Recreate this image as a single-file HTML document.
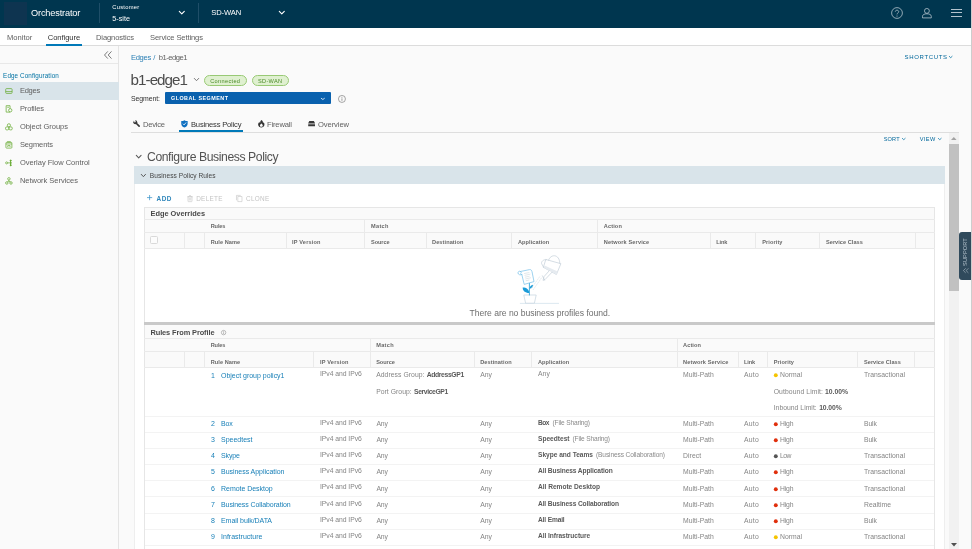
<!DOCTYPE html>
<html>
<head>
<meta charset="utf-8">
<title>Orchestrator</title>
<style>
*{box-sizing:border-box;margin:0;padding:0}
html,body{width:972px;height:549px;overflow:hidden;background:#fafafa;font-family:"Liberation Sans",sans-serif;color:#565656;font-size:7px}
.a{position:absolute;white-space:pre;line-height:1}
.hl{position:absolute;height:1px;background:#eaeaea}
.vl{position:absolute;width:1px;background:#eaeaea}
svg{position:absolute;overflow:visible}
</style>
</head>
<body>
<div id="root" style="position:absolute;left:0;top:0;width:972px;height:549px;will-change:transform">
<div class="a" style="left:0px;top:0px;width:972px;height:28px;background:#00364f;"></div>
<div class="a" style="left:4px;top:2px;width:23px;height:23px;background:#0e3450;"></div>
<div class="a" style="left:99px;top:3px;width:1px;height:20px;background:#1f4e68;"></div>
<div class="a" style="left:198px;top:3px;width:1px;height:20px;background:#1f4e68;"></div>
<svg style="left:179.3px;top:11.3px" width="5.6" height="3.4" viewBox="0 0 5.6 3.4"><path d="M0.3 0.4 L2.8 2.9 L5.3 0.4" fill="none" stroke="#fff" stroke-width="1.1" stroke-linecap="round" stroke-linejoin="round"/></svg>
<svg style="left:278.5px;top:11.3px" width="5.6" height="3.4" viewBox="0 0 5.6 3.4"><path d="M0.3 0.4 L2.8 2.9 L5.3 0.4" fill="none" stroke="#fff" stroke-width="1.1" stroke-linecap="round" stroke-linejoin="round"/></svg>
<svg style="left:891px;top:7px" width="12" height="12" viewBox="0 0 12 12"><circle cx="6" cy="6" r="5.4" fill="none" stroke="#b4c3cd" stroke-width="0.8"/><path d="M4.3 4.7 C4.3 2.7 7.7 2.7 7.7 4.7 C7.7 6 6 6 6 7.4" fill="none" stroke="#b4c3cd" stroke-width="0.8"/><circle cx="6" cy="9" r="0.55" fill="#b4c3cd"/></svg>
<svg style="left:921.6px;top:7.8px" width="9.8" height="10.4" viewBox="0 0 9.8 10.4"><circle cx="4.9" cy="2.9" r="2.45" fill="none" stroke="#b4c3cd" stroke-width="0.8"/><path d="M0.5 9.9 L0.5 8.3 C0.5 6.6 2.5 5.8 4.9 5.8 C7.3 5.8 9.3 6.6 9.3 8.3 L9.3 9.9 Z" fill="none" stroke="#b4c3cd" stroke-width="0.8" stroke-linejoin="round"/></svg>
<div class="a" style="left:951.3px;top:8.8px;width:10.4px;height:0.9px;background:#b4c3cd;"></div>
<div class="a" style="left:951.3px;top:12.4px;width:10.4px;height:0.9px;background:#b4c3cd;"></div>
<div class="a" style="left:951.3px;top:16.1px;width:10.4px;height:0.9px;background:#b4c3cd;"></div>
<div class="a" style="left:0px;top:28px;width:972px;height:18px;background:#fff;border-bottom:1px solid #dcdcdc"></div>
<div class="a" style="left:46.3px;top:43.8px;width:35.5px;height:2px;background:#0079b8;"></div>
<div class="a" style="left:0px;top:46px;width:119px;height:503px;background:#fafafa;border-right:1px solid #e4e4e4"></div>
<div class="hl" style="left:0px;top:63px;width:118px;background:#e8e8e8"></div>
<svg style="left:104px;top:51px" width="8" height="8" viewBox="0 0 8 8"><path d="M3.8 0.4 L0.5 4 L3.8 7.6 M7.5 0.4 L4.2 4 L7.5 7.6" fill="none" stroke="#666" stroke-width="0.85"/></svg>
<div class="a" style="left:0px;top:82px;width:119px;height:17.9px;background:#d9e4ea;"></div>
<svg style="left:5.2px;top:87.1px" width="7.8" height="7.8" viewBox="0 0 17 17" fill="none" stroke="#66aa30" stroke-width="1.6" stroke-linejoin="round"><rect x="1.5" y="3.5" width="14" height="10.5" rx="2"/><path d="M1.5 10 H15.5"/></svg>
<svg style="left:5.2px;top:105.0px" width="7.8" height="7.8" viewBox="0 0 17 17" fill="none" stroke="#66aa30" stroke-width="1.6" stroke-linejoin="round"><path d="M2.5 1.5 H11 V15.5 H2.5 Z M5 5 H8.5"/><circle cx="11.5" cy="11.5" r="3.6" fill="#fafafa"/></svg>
<svg style="left:5.2px;top:122.9px" width="7.8" height="7.8" viewBox="0 0 17 17" fill="none" stroke="#66aa30" stroke-width="1.6" stroke-linejoin="round"><circle cx="8.5" cy="5" r="3.4"/><rect x="1.2" y="8.5" width="7" height="6.5" rx="2.5"/><rect x="8.8" y="8.5" width="7" height="6.5" rx="2.5"/></svg>
<svg style="left:5.2px;top:140.8px" width="7.8" height="7.8" viewBox="0 0 17 17" fill="none" stroke="#66aa30" stroke-width="1.6" stroke-linejoin="round"><rect x="2" y="3" width="13" height="12.5" rx="1.5"/><path d="M2 6.5 H15 M4.5 1.5 H12.5 M6 13 V10 H11 V13"/></svg>
<svg style="left:5.2px;top:158.7px" width="7.8" height="7.8" viewBox="0 0 17 17" fill="none" stroke="#66aa30" stroke-width="1.6" stroke-linejoin="round"><circle cx="3.5" cy="8.5" r="2.2"/><path d="M6 8.5 H10.5 M12 2 V15" /><circle cx="12.5" cy="3.5" r="1.4" fill="#66aa30"/><circle cx="12.5" cy="8.5" r="1.4" fill="#66aa30"/><circle cx="12.5" cy="13.5" r="1.4" fill="#66aa30"/></svg>
<svg style="left:5.2px;top:176.6px" width="7.8" height="7.8" viewBox="0 0 17 17" fill="none" stroke="#66aa30" stroke-width="1.6" stroke-linejoin="round"><circle cx="8.5" cy="4" r="2.7"/><circle cx="4" cy="13" r="2.7"/><circle cx="13" cy="13" r="2.7"/><path d="M8.5 6.7 V9 M8.5 9 L5 10.8 M8.5 9 L12 10.8"/></svg>
<svg style="left:949.2px;top:56.2px" width="3.4" height="2.2" viewBox="0 0 3.4 2.2"><path d="M0.3 0.4 L1.7 1.7000000000000002 L3.1 0.4" fill="none" stroke="#0072a3" stroke-width="0.8" stroke-linecap="round" stroke-linejoin="round"/></svg>
<svg style="left:193.7px;top:78.3px" width="5" height="3.2" viewBox="0 0 5 3.2"><path d="M0.3 0.4 L2.5 2.7 L4.7 0.4" fill="none" stroke="#6a6a6a" stroke-width="0.9" stroke-linecap="round" stroke-linejoin="round"/></svg>
<div class="a" style="left:203.7px;top:75px;width:43px;height:11.2px;border:1px solid #98c975;border-radius:6px;background:#dff0d0"></div>
<div class="a" style="left:251.5px;top:75px;width:37px;height:11.2px;border:1px solid #98c975;border-radius:6px;background:#dff0d0"></div>
<div class="a" style="left:164.6px;top:92.4px;width:166.6px;height:11.7px;background:#0961ae;border-radius:1px"></div>
<svg style="left:320.5px;top:97.5px" width="3.7" height="2" viewBox="0 0 3.7 2"><path d="M0.3 0.4 L1.85 1.5 L3.4000000000000004 0.4" fill="none" stroke="#fff" stroke-width="0.8" stroke-linecap="round" stroke-linejoin="round"/></svg>
<svg style="left:337.6px;top:95.1px" width="7.9" height="7.9" viewBox="0 0 14 14"><circle cx="7" cy="7" r="6.2" fill="none" stroke="#707070" stroke-width="1.1"/><path d="M7 6 V10.3" stroke="#707070" stroke-width="1.2"/><circle cx="7" cy="3.9" r="0.85" fill="#707070"/></svg>
<div class="hl" style="left:131px;top:132px;width:828px;background:#dedede"></div>
<div class="a" style="left:179.2px;top:130px;width:63.8px;height:2px;background:#0079b8;"></div>
<svg style="left:132.9px;top:120px" width="7.2" height="7.2" viewBox="0 0 14.4 14.4"><circle cx="4.6" cy="4.6" r="3.9" fill="#383838"/><path d="M6 6 L12.3 12.3" stroke="#383838" stroke-width="3.3" stroke-linecap="round"/><path d="M4.4 4.4 L2.2 -1.5" stroke="#fafafa" stroke-width="2.6"/></svg>
<svg style="left:181.2px;top:120px" width="6.9" height="7.6" viewBox="0 0 13.8 15.2"><path d="M6.9 0.3 C8.5 1.6 10.8 2.2 13.3 2.2 V7.4 C13.3 11.2 10.3 13.8 6.9 15 C3.5 13.8 0.5 11.2 0.5 7.4 V2.2 C3 2.2 5.3 1.6 6.9 0.3 Z" fill="#0f70c0"/><path d="M3.8 7.4 L6.2 9.8 L10.2 5" fill="none" stroke="#fff" stroke-width="1.6"/></svg>
<svg style="left:257.6px;top:120px" width="6.6" height="7.6" viewBox="0 0 13.2 15.2"><path d="M7.2 0.2 C9.5 2 10.3 4.2 9.9 6.4 C10.8 5.9 11.2 5 11.2 4 C12.6 5.8 13.1 7.8 12.9 9.6 C12.5 13 9.8 15 6.6 15 C3.2 15 0.5 12.9 0.3 9.6 C0.1 6.8 1.6 5.2 2.9 3.4 C3.1 5 3.5 6 4.3 6.6 C4 4 5.2 1.6 7.2 0.2 Z M6.6 13.6 C8.4 13.6 9.6 12.4 9.6 10.9 C9.6 9.4 8.4 8.6 7 6.8 C5.4 8.6 3.8 9.4 3.8 10.9 C3.8 12.4 4.8 13.6 6.6 13.6 Z" fill="#333" fill-rule="evenodd"/></svg>
<svg style="left:307.9px;top:121.4px" width="7.2" height="5.4" viewBox="0 0 14.4 10.8"><path d="M2.6 0.2 H11.8 L13.8 4.2 H0.6 Z M0.4 4.9 H14 V7.3 H0.4 Z M0.4 8 H14 V10.6 H0.4 Z" fill="#383838"/></svg>
<svg style="left:902.3px;top:137.6px" width="3.5" height="2.2" viewBox="0 0 3.5 2.2"><path d="M0.3 0.4 L1.75 1.7000000000000002 L3.2 0.4" fill="none" stroke="#0072a3" stroke-width="0.75" stroke-linecap="round" stroke-linejoin="round"/></svg>
<svg style="left:938.1px;top:137.6px" width="3.5" height="2.2" viewBox="0 0 3.5 2.2"><path d="M0.3 0.4 L1.75 1.7000000000000002 L3.2 0.4" fill="none" stroke="#0072a3" stroke-width="0.75" stroke-linecap="round" stroke-linejoin="round"/></svg>
<div class="a" style="left:948.6px;top:133px;width:10.4px;height:416px;background:#f1f1f1;"></div>
<div class="a" style="left:949px;top:144px;width:9.8px;height:146.7px;background:#c1c1c1;"></div>
<svg style="left:951.1px;top:136.9px" width="5.6" height="3" viewBox="0 0 5.6 3"><path d="M0 3 L2.8 0 L5.6 3 Z" fill="#a3a3a3"/></svg>
<svg style="left:950.8px;top:543.4px" width="6" height="3.6" viewBox="0 0 6 3.6"><path d="M0 0 L3 3.6 L6 0 Z" fill="#505050"/></svg>
<svg style="left:135.7px;top:155.2px" width="5.4" height="3.4" viewBox="0 0 5.4 3.4"><path d="M0.3 0.4 L2.7 2.9 L5.1000000000000005 0.4" fill="none" stroke="#5a5a5a" stroke-width="1.05" stroke-linecap="round" stroke-linejoin="round"/></svg>
<div class="a" style="left:134.2px;top:166px;width:811.3px;height:18px;background:#d9e4ea;"></div>
<svg style="left:141.2px;top:173.8px" width="4.8" height="3.2" viewBox="0 0 4.8 3.2"><path d="M0.3 0.4 L2.4 2.7 L4.5 0.4" fill="none" stroke="#505050" stroke-width="0.95" stroke-linecap="round" stroke-linejoin="round"/></svg>
<div class="a" style="left:134.2px;top:184px;width:811.3px;height:365px;background:#fff;border-left:1px solid #eee;border-right:1px solid #eee"></div>
<svg style="left:147.2px;top:195px" width="5.2" height="5.2" viewBox="0 0 5.2 5.2"><path d="M2.6 0 V5.2 M0 2.6 H5.2" stroke="#3a93ca" stroke-width="0.75"/></svg>
<svg style="left:186.9px;top:194.6px" width="6" height="7" viewBox="0 0 12 14" fill="none" stroke="#c4c4c4" stroke-width="1.2"><path d="M2 3.4 H10 V12.2 C10 13 9.6 13.3 9 13.3 H3 C2.4 13.3 2 13 2 12.2 Z M0.4 3.4 H11.6 M4 1.2 H8 M4.6 5.6 V11 M7.4 5.6 V11"/></svg>
<svg style="left:236.3px;top:194.6px" width="6.4" height="7" viewBox="0 0 12.8 14" fill="none" stroke="#c4c4c4" stroke-width="1.2" stroke-linejoin="round"><path d="M3.6 3 H12 V13.2 H3.6 Z M1 10.6 V0.8 H9.4"/></svg>
<div class="a" style="left:144px;top:207px;width:791px;height:116px;border:1px solid #e6e6e6;background:#fff"></div>
<div class="a" style="left:145px;top:208px;width:789px;height:41px;background:#fafafa;"></div>
<div class="hl" style="left:144px;top:219px;width:791px"></div>
<div class="hl" style="left:144px;top:232px;width:791px"></div>
<div class="hl" style="left:144px;top:248px;width:791px"></div>
<div class="vl" style="left:364px;top:219px;height:30px"></div>
<div class="vl" style="left:597px;top:219px;height:30px"></div>
<div class="vl" style="left:184px;top:232px;height:17px"></div>
<div class="vl" style="left:204px;top:232px;height:17px"></div>
<div class="vl" style="left:286px;top:232px;height:17px"></div>
<div class="vl" style="left:426px;top:232px;height:17px"></div>
<div class="vl" style="left:511px;top:232px;height:17px"></div>
<div class="vl" style="left:710px;top:232px;height:17px"></div>
<div class="vl" style="left:755px;top:232px;height:17px"></div>
<div class="vl" style="left:819px;top:232px;height:17px"></div>
<div class="vl" style="left:915px;top:232px;height:17px"></div>
<div class="a" style="left:150px;top:236px;width:8.2px;height:7.8px;border:1px solid #d9d9d9;border-radius:1.5px;background:#fcfcfc"></div>
<div class="a" style="left:144px;top:322.4px;width:791px;height:2.9px;background:#c9c9c9;"></div>
<div class="a" style="left:144px;top:325px;width:791px;height:224px;border:1px solid #e6e6e6;border-top:0;border-bottom:0;background:#fff"></div>
<div class="a" style="left:145px;top:325px;width:789px;height:43px;background:#fafafa;"></div>
<svg style="left:221px;top:329.6px" width="5.2" height="5.2" viewBox="0 0 14 14"><circle cx="7" cy="7" r="6" fill="none" stroke="#7a7a7a" stroke-width="1.3"/><path d="M7 6 V10.5" stroke="#7a7a7a" stroke-width="1.5"/><circle cx="7" cy="3.8" r="1" fill="#7a7a7a"/></svg>
<div class="hl" style="left:144px;top:338px;width:791px"></div>
<div class="hl" style="left:144px;top:351px;width:791px"></div>
<div class="hl" style="left:144px;top:367px;width:791px"></div>
<div class="vl" style="left:370px;top:338px;height:30px"></div>
<div class="vl" style="left:677px;top:338px;height:30px"></div>
<div class="vl" style="left:184px;top:351px;height:17px"></div>
<div class="vl" style="left:204px;top:351px;height:17px"></div>
<div class="vl" style="left:313px;top:351px;height:17px"></div>
<div class="vl" style="left:474px;top:351px;height:17px"></div>
<div class="vl" style="left:531px;top:351px;height:17px"></div>
<div class="vl" style="left:738px;top:351px;height:17px"></div>
<div class="vl" style="left:767px;top:351px;height:17px"></div>
<div class="vl" style="left:857px;top:351px;height:17px"></div>
<div class="vl" style="left:914px;top:351px;height:17px"></div>
<svg style="left:773px;top:372px" width="6" height="6" viewBox="0 0 6 6"><circle cx="2.8" cy="3.2" r="1.95" fill="#f5c400"/></svg>
<div class="hl" style="left:145px;top:416px;width:789px;background:#f3f3f3"></div>
<svg style="left:773px;top:421px" width="6" height="6" viewBox="0 0 6 6"><circle cx="2.8" cy="3.2" r="1.95" fill="#e02f0c"/></svg>
<div class="hl" style="left:145px;top:432px;width:789px;background:#f3f3f3"></div>
<svg style="left:773px;top:437px" width="6" height="6" viewBox="0 0 6 6"><circle cx="2.8" cy="3.2" r="1.95" fill="#e02f0c"/></svg>
<div class="hl" style="left:145px;top:448px;width:789px;background:#f3f3f3"></div>
<svg style="left:773px;top:453px" width="6" height="6" viewBox="0 0 6 6"><circle cx="2.8" cy="3.2" r="1.95" fill="#555"/></svg>
<div class="hl" style="left:145px;top:464px;width:789px;background:#f3f3f3"></div>
<svg style="left:773px;top:469px" width="6" height="6" viewBox="0 0 6 6"><circle cx="2.8" cy="3.2" r="1.95" fill="#e02f0c"/></svg>
<div class="hl" style="left:145px;top:480px;width:789px;background:#f3f3f3"></div>
<svg style="left:773px;top:486px" width="6" height="6" viewBox="0 0 6 6"><circle cx="2.8" cy="3.2" r="1.95" fill="#e02f0c"/></svg>
<div class="hl" style="left:145px;top:496px;width:789px;background:#f3f3f3"></div>
<svg style="left:773px;top:502px" width="6" height="6" viewBox="0 0 6 6"><circle cx="2.8" cy="3.2" r="1.95" fill="#e02f0c"/></svg>
<div class="hl" style="left:145px;top:513px;width:789px;background:#f3f3f3"></div>
<svg style="left:773px;top:518px" width="6" height="6" viewBox="0 0 6 6"><circle cx="2.8" cy="3.2" r="1.95" fill="#e02f0c"/></svg>
<div class="hl" style="left:145px;top:529px;width:789px;background:#f3f3f3"></div>
<svg style="left:773px;top:534px" width="6" height="6" viewBox="0 0 6 6"><circle cx="2.8" cy="3.2" r="1.95" fill="#f5c400"/></svg>
<div class="hl" style="left:145px;top:545px;width:789px;background:#f3f3f3"></div>
<svg style="left:515px;top:252px" width="50" height="54" viewBox="0 0 50 54" fill="none" stroke-linecap="round" stroke-linejoin="round">
<path d="M5.3 51.4 H43.6" stroke="#d3e2ec" stroke-width="0.8"/>
<path d="M9.2 43 H21.2 L19.4 51.2 H11 Z" fill="#fff" stroke="#c3d3de" stroke-width="0.7"/>
<path d="M14.4 43 V31" stroke="#1a9bd8" stroke-width="0.8"/>
<path d="M14.2 41 C10 41 7.5 38.5 7.7 35.5 C11.5 35.5 14.2 37.5 14.2 41 Z" fill="#1a9bd8"/>
<path d="M14.6 36.8 C14.6 34.5 16 33 18 32.8 C18.2 35 17 36.6 14.6 36.8 Z" fill="#1a9bd8"/>
<path d="M5.5 19.5 L14.5 17.6 C16 17.4 16.6 18.2 17 19.6 L19 29.6 L9.2 32.4 L6.8 22.5 M6.8 22.5 C5 23.4 3.2 22.6 3 21 C2.9 19.6 4.2 18.8 5.5 19.5 C6.4 20 6.6 21.3 5.6 21.8" stroke="#72bfe8" stroke-width="0.7" fill="#fff"/>
<path d="M9.5 21.5 L14 20.6 M9.9 23.3 L15 22.2 M10.3 25.1 L14.2 24.3 M10.7 26.9 L15.6 25.8 M11.1 28.7 L14 28" stroke="#cfd8de" stroke-width="0.6"/>
<path d="M31.2 7.6 L45.9 11.7 L41.4 22.5 L28.7 15.5 Z" stroke="#c3cfd9" stroke-width="0.7" fill="#fff"/><path d="M29.6 13.4 L42.6 19.6 L41.4 22.5 L28.7 15.5 Z" fill="#e6ebf0"/>
<path d="M33.6 8.2 C35.4 1.8 44.6 1.6 44.8 11.2" stroke="#c3cfd9" stroke-width="0.7"/>
<path d="M31.2 7.6 C28.2 7.4 26.2 9.6 26.6 11.6 L28.7 15.5" stroke="#c3cfd9" stroke-width="0.7"/>
<path d="M34.2 18.8 L29 24.6 L28 28.4 L30 27.6 L37 20.2" stroke="#c3cfd9" stroke-width="0.7" fill="#fff"/>
<path d="M27.4 23.8 L29.6 28" stroke="#c3cfd9" stroke-width="0.7"/>
<path d="M26.4 26 L18 38 M24.6 24.8 L16.6 36" stroke="#dde4ea" stroke-width="0.7" stroke-dasharray="1.3 1.3"/>
</svg>
<div class="a" style="left:959.3px;top:232px;width:11.7px;height:47.6px;background:#304a5c;border-radius:3px 0 0 3px"></div>
<div class="a" style="left:965.6px;top:251.6px;font-size:5.6px;letter-spacing:0.12px;color:#b3c1cb;transform:translate(-50%,-50%) rotate(-90deg)">SUPPORT</div>
<svg style="left:962.8px;top:268.3px" width="5.8" height="5.2" viewBox="0 0 5.8 5.2"><path d="M2.7 0.3 L0.4 2.6 L2.7 4.9 M5.4 0.3 L3.1 2.6 L5.4 4.9" fill="none" stroke="#b3c1cb" stroke-width="0.6"/></svg>
<div class="a" style="left:971px;top:0px;width:1px;height:549px;background:#cdcdcd;"></div>
<div class="a" style="left:31.00px;top:9.00px;font-size:9.2px;color:#fff;letter-spacing:-0.160px;">Orchestrator</div>
<div class="a" style="left:112.20px;top:5.00px;font-size:5.8px;color:#fff;letter-spacing:0.266px;">Customer</div>
<div class="a" style="left:112.20px;top:15.00px;font-size:7.2px;color:#fff;letter-spacing:0.044px;">5-site</div>
<div class="a" style="left:211.20px;top:9.00px;font-size:7.6px;color:#fff;letter-spacing:-0.103px;">SD-WAN</div>
<div class="a" style="left:7.00px;top:34.00px;font-size:7.6px;color:#606060;letter-spacing:-0.021px;">Monitor</div>
<div class="a" style="left:47.80px;top:34.00px;font-size:7.6px;color:#313131;letter-spacing:-0.067px;">Configure</div>
<div class="a" style="left:96.00px;top:34.00px;font-size:7.6px;color:#606060;letter-spacing:-0.127px;">Diagnostics</div>
<div class="a" style="left:150.00px;top:34.00px;font-size:7.6px;color:#606060;letter-spacing:-0.125px;">Service Settings</div>
<div class="a" style="left:3.10px;top:73.00px;font-size:6.3px;color:#0072a3;letter-spacing:0.105px;">Edge Configuration</div>
<div class="a" style="left:19.90px;top:87.00px;font-size:7.5px;color:#606060;letter-spacing:-0.220px;">Edges</div>
<div class="a" style="left:19.90px;top:105.00px;font-size:7.5px;color:#606060;letter-spacing:-0.131px;">Profiles</div>
<div class="a" style="left:19.90px;top:123.00px;font-size:7.5px;color:#606060;letter-spacing:-0.022px;">Object Groups</div>
<div class="a" style="left:19.90px;top:141.00px;font-size:7.5px;color:#606060;letter-spacing:-0.097px;">Segments</div>
<div class="a" style="left:19.90px;top:159.00px;font-size:7.5px;color:#606060;letter-spacing:-0.007px;">Overlay Flow Control</div>
<div class="a" style="left:19.90px;top:177.00px;font-size:7.5px;color:#606060;letter-spacing:-0.017px;">Network Services</div>
<div class="a" style="left:131.00px;top:54.00px;font-size:7.6px;color:#2a7fb4;letter-spacing:-0.337px;">Edges</div>
<div class="a" style="left:153.20px;top:54.00px;font-size:7.6px;color:#2a7fb4;">/</div>
<div class="a" style="left:158.70px;top:54.00px;font-size:7.6px;color:#606060;letter-spacing:-0.471px;">b1-edge1</div>
<div class="a" style="left:904.60px;top:54.00px;font-size:6px;color:#00679b;letter-spacing:0.646px;">SHORTCUTS</div>
<div class="a" style="left:130.60px;top:72.00px;font-size:15.2px;color:#4c4c4c;letter-spacing:-0.970px;">b1-edge1</div>
<div class="a" style="left:210.20px;top:79.00px;font-size:5.6px;color:#4a8a28;letter-spacing:0.342px;">Connected</div>
<div class="a" style="left:258.00px;top:79.00px;font-size:5.6px;color:#4a8a28;letter-spacing:0.303px;">SD-WAN</div>
<div class="a" style="left:131.00px;top:96.00px;font-size:6.9px;color:#313131;letter-spacing:-0.071px;">Segment:</div>
<div class="a" style="left:171.00px;top:96.00px;font-size:5.4px;color:#fff;font-weight:bold;letter-spacing:0.475px;">GLOBAL SEGMENT</div>
<div class="a" style="left:143.00px;top:121.00px;font-size:7.6px;color:#606060;letter-spacing:-0.244px;">Device</div>
<div class="a" style="left:191.00px;top:121.00px;font-size:7.6px;color:#313131;letter-spacing:-0.192px;">Business Policy</div>
<div class="a" style="left:267.00px;top:121.00px;font-size:7.6px;color:#606060;letter-spacing:-0.167px;">Firewall</div>
<div class="a" style="left:318.00px;top:121.00px;font-size:7.6px;color:#606060;letter-spacing:-0.094px;">Overview</div>
<div class="a" style="left:883.70px;top:137.00px;font-size:5.6px;color:#00679b;letter-spacing:0.154px;">SORT</div>
<div class="a" style="left:919.70px;top:137.00px;font-size:5.6px;color:#00679b;letter-spacing:0.434px;">VIEW</div>
<div class="a" style="left:147.00px;top:151.00px;font-size:12.2px;color:#525252;letter-spacing:-0.421px;">Configure Business Policy</div>
<div class="a" style="left:149.80px;top:173.00px;font-size:6.6px;color:#454545;letter-spacing:0.041px;">Business Policy Rules</div>
<div class="a" style="left:156.50px;top:196.00px;font-size:6.4px;color:#2f86bb;font-weight:bold;letter-spacing:0.570px;">ADD</div>
<div class="a" style="left:196.20px;top:196.00px;font-size:6.4px;color:#c4c4c4;letter-spacing:0.285px;">DELETE</div>
<div class="a" style="left:246.00px;top:196.00px;font-size:6.4px;color:#c4c4c4;letter-spacing:0.292px;">CLONE</div>
<div class="a" style="left:150.50px;top:210.00px;font-size:7.4px;color:#4a4a4a;font-weight:bold;letter-spacing:-0.011px;">Edge Overrides</div>
<div class="a" style="left:210.70px;top:224.00px;font-size:5.6px;color:#686868;font-weight:bold;letter-spacing:-0.109px;">Rules</div>
<div class="a" style="left:371.00px;top:224.00px;font-size:5.6px;color:#686868;font-weight:bold;letter-spacing:0.307px;">Match</div>
<div class="a" style="left:603.80px;top:224.00px;font-size:5.6px;color:#686868;font-weight:bold;letter-spacing:0.119px;">Action</div>
<div class="a" style="left:210.70px;top:240.00px;font-size:5.6px;color:#686868;font-weight:bold;letter-spacing:0.072px;">Rule Name</div>
<div class="a" style="left:292.00px;top:240.00px;font-size:5.6px;color:#686868;font-weight:bold;letter-spacing:0.172px;">IP Version</div>
<div class="a" style="left:371.00px;top:240.00px;font-size:5.6px;color:#686868;font-weight:bold;letter-spacing:-0.074px;">Source</div>
<div class="a" style="left:432.00px;top:240.00px;font-size:5.6px;color:#686868;font-weight:bold;letter-spacing:0.093px;">Destination</div>
<div class="a" style="left:518.00px;top:240.00px;font-size:5.6px;color:#686868;font-weight:bold;letter-spacing:0.073px;">Application</div>
<div class="a" style="left:603.80px;top:240.00px;font-size:5.6px;color:#686868;font-weight:bold;letter-spacing:0.133px;">Network Service</div>
<div class="a" style="left:716.20px;top:240.00px;font-size:5.6px;color:#686868;font-weight:bold;letter-spacing:-0.133px;">Link</div>
<div class="a" style="left:762.20px;top:240.00px;font-size:5.6px;color:#686868;font-weight:bold;letter-spacing:0.101px;">Priority</div>
<div class="a" style="left:826.00px;top:240.00px;font-size:5.6px;color:#686868;font-weight:bold;letter-spacing:0.034px;">Service Class</div>
<div class="a" style="left:469.60px;top:309.00px;font-size:8.6px;color:#6e6e6e;letter-spacing:-0.036px;">There are no business profiles found.</div>
<div class="a" style="left:150.50px;top:329.00px;font-size:7.4px;color:#4a4a4a;font-weight:bold;letter-spacing:-0.101px;">Rules From Profile</div>
<div class="a" style="left:210.70px;top:343.00px;font-size:5.6px;color:#686868;font-weight:bold;letter-spacing:-0.109px;">Rules</div>
<div class="a" style="left:376.20px;top:343.00px;font-size:5.6px;color:#686868;font-weight:bold;letter-spacing:0.307px;">Match</div>
<div class="a" style="left:683.00px;top:343.00px;font-size:5.6px;color:#686868;font-weight:bold;letter-spacing:0.119px;">Action</div>
<div class="a" style="left:210.70px;top:360.00px;font-size:5.6px;color:#686868;font-weight:bold;letter-spacing:0.072px;">Rule Name</div>
<div class="a" style="left:320.00px;top:360.00px;font-size:5.6px;color:#686868;font-weight:bold;letter-spacing:0.172px;">IP Version</div>
<div class="a" style="left:376.20px;top:360.00px;font-size:5.6px;color:#686868;font-weight:bold;letter-spacing:-0.074px;">Source</div>
<div class="a" style="left:480.20px;top:360.00px;font-size:5.6px;color:#686868;font-weight:bold;letter-spacing:0.093px;">Destination</div>
<div class="a" style="left:538.00px;top:360.00px;font-size:5.6px;color:#686868;font-weight:bold;letter-spacing:0.073px;">Application</div>
<div class="a" style="left:683.00px;top:360.00px;font-size:5.6px;color:#686868;font-weight:bold;letter-spacing:0.133px;">Network Service</div>
<div class="a" style="left:744.00px;top:360.00px;font-size:5.6px;color:#686868;font-weight:bold;letter-spacing:-0.133px;">Link</div>
<div class="a" style="left:773.70px;top:360.00px;font-size:5.6px;color:#686868;font-weight:bold;letter-spacing:0.101px;">Priority</div>
<div class="a" style="left:864.00px;top:360.00px;font-size:5.6px;color:#686868;font-weight:bold;letter-spacing:0.034px;">Service Class</div>
<div class="a" style="left:211.00px;top:372.00px;font-size:7.0px;color:#1a80b8;">1</div>
<div class="a" style="left:221.00px;top:372.00px;font-size:7.0px;color:#1a80b8;letter-spacing:-0.017px;">Object group policy1</div>
<div class="a" style="left:320.00px;top:371.00px;font-size:6.8px;color:#858585;letter-spacing:-0.044px;">IPv4 and IPv6</div>
<div class="a" style="left:376.20px;top:372.00px;font-size:6.8px;color:#858585;letter-spacing:0.053px;">Address Group:</div>
<div class="a" style="left:426.70px;top:372.00px;font-size:6.8px;color:#5a5a5a;font-weight:bold;letter-spacing:-0.368px;">AddressGP1</div>
<div class="a" style="left:376.20px;top:389.00px;font-size:6.8px;color:#858585;letter-spacing:0.036px;">Port Group:</div>
<div class="a" style="left:414.00px;top:389.00px;font-size:6.8px;color:#5a5a5a;font-weight:bold;letter-spacing:-0.400px;">ServiceGP1</div>
<div class="a" style="left:538.00px;top:371.00px;font-size:6.8px;color:#858585;letter-spacing:0.041px;">Any</div>
<div class="a" style="left:773.70px;top:389.00px;font-size:6.8px;color:#858585;letter-spacing:0.094px;">Outbound Limit:</div>
<div class="a" style="left:825.00px;top:389.00px;font-size:6.8px;color:#5a5a5a;font-weight:bold;letter-spacing:-0.013px;">10.00%</div>
<div class="a" style="left:773.70px;top:405.00px;font-size:6.8px;color:#858585;letter-spacing:0.023px;">Inbound Limit:</div>
<div class="a" style="left:819.20px;top:405.00px;font-size:6.8px;color:#5a5a5a;font-weight:bold;letter-spacing:-0.113px;">10.00%</div>
<div class="a" style="left:480.20px;top:372.00px;font-size:6.8px;color:#858585;letter-spacing:0.041px;">Any</div>
<div class="a" style="left:683.00px;top:372.00px;font-size:6.8px;color:#858585;letter-spacing:0.010px;">Multi-Path</div>
<div class="a" style="left:744.10px;top:372.00px;font-size:6.8px;color:#858585;letter-spacing:0.205px;">Auto</div>
<div class="a" style="left:780.00px;top:372.00px;font-size:6.8px;color:#858585;letter-spacing:0.019px;">Normal</div>
<div class="a" style="left:864.00px;top:372.00px;font-size:6.8px;color:#858585;letter-spacing:0.036px;">Transactional</div>
<div class="a" style="left:211.00px;top:420.00px;font-size:7.0px;color:#1a80b8;">2</div>
<div class="a" style="left:221.00px;top:420.00px;font-size:7.0px;color:#1a80b8;letter-spacing:-0.181px;">Box</div>
<div class="a" style="left:320.00px;top:420.00px;font-size:6.8px;color:#858585;letter-spacing:-0.044px;">IPv4 and IPv6</div>
<div class="a" style="left:376.40px;top:421.00px;font-size:6.8px;color:#858585;letter-spacing:-0.059px;">Any</div>
<div class="a" style="left:538.00px;top:420.00px;font-size:6.6px;color:#5a5a5a;font-weight:bold;letter-spacing:-0.484px;">Box</div>
<div class="a" style="left:552.50px;top:420.00px;font-size:6.6px;color:#8a8a8a;letter-spacing:-0.160px;">(File Sharing)</div>
<div class="a" style="left:480.20px;top:421.00px;font-size:6.8px;color:#858585;letter-spacing:0.041px;">Any</div>
<div class="a" style="left:683.00px;top:421.00px;font-size:6.8px;color:#858585;letter-spacing:0.010px;">Multi-Path</div>
<div class="a" style="left:744.10px;top:421.00px;font-size:6.8px;color:#858585;letter-spacing:0.205px;">Auto</div>
<div class="a" style="left:780.00px;top:421.00px;font-size:6.8px;color:#858585;letter-spacing:-0.161px;">High</div>
<div class="a" style="left:864.00px;top:421.00px;font-size:6.8px;color:#858585;letter-spacing:-0.145px;">Bulk</div>
<div class="a" style="left:211.00px;top:436.00px;font-size:7.0px;color:#1a80b8;">3</div>
<div class="a" style="left:221.00px;top:436.00px;font-size:7.0px;color:#1a80b8;">Speedtest</div>
<div class="a" style="left:320.00px;top:436.00px;font-size:6.8px;color:#858585;letter-spacing:-0.044px;">IPv4 and IPv6</div>
<div class="a" style="left:376.40px;top:437.00px;font-size:6.8px;color:#858585;letter-spacing:-0.059px;">Any</div>
<div class="a" style="left:538.00px;top:436.00px;font-size:6.6px;color:#5a5a5a;font-weight:bold;">Speedtest</div>
<div class="a" style="left:572.50px;top:436.00px;font-size:6.6px;color:#8a8a8a;letter-spacing:-0.160px;">(File Sharing)</div>
<div class="a" style="left:480.20px;top:437.00px;font-size:6.8px;color:#858585;letter-spacing:0.041px;">Any</div>
<div class="a" style="left:683.00px;top:437.00px;font-size:6.8px;color:#858585;letter-spacing:0.010px;">Multi-Path</div>
<div class="a" style="left:744.10px;top:437.00px;font-size:6.8px;color:#858585;letter-spacing:0.205px;">Auto</div>
<div class="a" style="left:780.00px;top:437.00px;font-size:6.8px;color:#858585;letter-spacing:-0.161px;">High</div>
<div class="a" style="left:864.00px;top:437.00px;font-size:6.8px;color:#858585;letter-spacing:-0.145px;">Bulk</div>
<div class="a" style="left:211.00px;top:452.00px;font-size:7.0px;color:#1a80b8;">4</div>
<div class="a" style="left:221.00px;top:452.00px;font-size:7.0px;color:#1a80b8;letter-spacing:-0.117px;">Skype</div>
<div class="a" style="left:320.00px;top:452.00px;font-size:6.8px;color:#858585;letter-spacing:-0.044px;">IPv4 and IPv6</div>
<div class="a" style="left:376.40px;top:453.00px;font-size:6.8px;color:#858585;letter-spacing:-0.059px;">Any</div>
<div class="a" style="left:538.00px;top:452.00px;font-size:6.6px;color:#5a5a5a;font-weight:bold;letter-spacing:-0.016px;">Skype and Teams</div>
<div class="a" style="left:596.00px;top:452.00px;font-size:6.6px;color:#8a8a8a;letter-spacing:-0.124px;">(Business Collaboration)</div>
<div class="a" style="left:480.20px;top:453.00px;font-size:6.8px;color:#858585;letter-spacing:0.041px;">Any</div>
<div class="a" style="left:683.00px;top:453.00px;font-size:6.8px;color:#858585;letter-spacing:0.090px;">Direct</div>
<div class="a" style="left:744.10px;top:453.00px;font-size:6.8px;color:#858585;letter-spacing:0.205px;">Auto</div>
<div class="a" style="left:780.00px;top:453.00px;font-size:6.8px;color:#858585;letter-spacing:-0.484px;">Low</div>
<div class="a" style="left:864.00px;top:453.00px;font-size:6.8px;color:#858585;letter-spacing:0.036px;">Transactional</div>
<div class="a" style="left:211.00px;top:468.00px;font-size:7.0px;color:#1a80b8;">5</div>
<div class="a" style="left:221.00px;top:468.00px;font-size:7.0px;color:#1a80b8;letter-spacing:-0.038px;">Business Application</div>
<div class="a" style="left:320.00px;top:468.00px;font-size:6.8px;color:#858585;letter-spacing:-0.044px;">IPv4 and IPv6</div>
<div class="a" style="left:376.40px;top:469.00px;font-size:6.8px;color:#858585;letter-spacing:-0.059px;">Any</div>
<div class="a" style="left:538.00px;top:468.00px;font-size:6.6px;color:#5a5a5a;font-weight:bold;letter-spacing:-0.103px;">All Business Application</div>
<div class="a" style="left:480.20px;top:469.00px;font-size:6.8px;color:#858585;letter-spacing:0.041px;">Any</div>
<div class="a" style="left:683.00px;top:469.00px;font-size:6.8px;color:#858585;letter-spacing:0.010px;">Multi-Path</div>
<div class="a" style="left:744.10px;top:469.00px;font-size:6.8px;color:#858585;letter-spacing:0.205px;">Auto</div>
<div class="a" style="left:780.00px;top:469.00px;font-size:6.8px;color:#858585;letter-spacing:-0.161px;">High</div>
<div class="a" style="left:864.00px;top:469.00px;font-size:6.8px;color:#858585;letter-spacing:0.036px;">Transactional</div>
<div class="a" style="left:211.00px;top:485.00px;font-size:7.0px;color:#1a80b8;">6</div>
<div class="a" style="left:221.00px;top:485.00px;font-size:7.0px;color:#1a80b8;letter-spacing:-0.034px;">Remote Desktop</div>
<div class="a" style="left:320.00px;top:484.00px;font-size:6.8px;color:#858585;letter-spacing:-0.044px;">IPv4 and IPv6</div>
<div class="a" style="left:376.40px;top:486.00px;font-size:6.8px;color:#858585;letter-spacing:-0.059px;">Any</div>
<div class="a" style="left:538.00px;top:484.00px;font-size:6.6px;color:#5a5a5a;font-weight:bold;letter-spacing:-0.017px;">All Remote Desktop</div>
<div class="a" style="left:480.20px;top:486.00px;font-size:6.8px;color:#858585;letter-spacing:0.041px;">Any</div>
<div class="a" style="left:683.00px;top:486.00px;font-size:6.8px;color:#858585;letter-spacing:0.010px;">Multi-Path</div>
<div class="a" style="left:744.10px;top:486.00px;font-size:6.8px;color:#858585;letter-spacing:0.205px;">Auto</div>
<div class="a" style="left:780.00px;top:486.00px;font-size:6.8px;color:#858585;letter-spacing:-0.161px;">High</div>
<div class="a" style="left:864.00px;top:486.00px;font-size:6.8px;color:#858585;letter-spacing:0.036px;">Transactional</div>
<div class="a" style="left:211.00px;top:501.00px;font-size:7.0px;color:#1a80b8;">7</div>
<div class="a" style="left:221.00px;top:501.00px;font-size:7.0px;color:#1a80b8;letter-spacing:-0.091px;">Business Collaboration</div>
<div class="a" style="left:320.00px;top:501.00px;font-size:6.8px;color:#858585;letter-spacing:-0.044px;">IPv4 and IPv6</div>
<div class="a" style="left:376.40px;top:502.00px;font-size:6.8px;color:#858585;letter-spacing:-0.059px;">Any</div>
<div class="a" style="left:538.00px;top:501.00px;font-size:6.6px;color:#5a5a5a;font-weight:bold;letter-spacing:-0.116px;">All Business Collaboration</div>
<div class="a" style="left:480.20px;top:502.00px;font-size:6.8px;color:#858585;letter-spacing:0.041px;">Any</div>
<div class="a" style="left:683.00px;top:502.00px;font-size:6.8px;color:#858585;letter-spacing:0.010px;">Multi-Path</div>
<div class="a" style="left:744.10px;top:502.00px;font-size:6.8px;color:#858585;letter-spacing:0.205px;">Auto</div>
<div class="a" style="left:780.00px;top:502.00px;font-size:6.8px;color:#858585;letter-spacing:-0.161px;">High</div>
<div class="a" style="left:864.00px;top:502.00px;font-size:6.8px;color:#858585;letter-spacing:0.025px;">Realtime</div>
<div class="a" style="left:211.00px;top:517.00px;font-size:7.0px;color:#1a80b8;">8</div>
<div class="a" style="left:221.00px;top:517.00px;font-size:7.0px;color:#1a80b8;letter-spacing:-0.062px;">Email bulk/DATA</div>
<div class="a" style="left:320.00px;top:517.00px;font-size:6.8px;color:#858585;letter-spacing:-0.044px;">IPv4 and IPv6</div>
<div class="a" style="left:376.40px;top:518.00px;font-size:6.8px;color:#858585;letter-spacing:-0.059px;">Any</div>
<div class="a" style="left:538.00px;top:517.00px;font-size:6.6px;color:#5a5a5a;font-weight:bold;letter-spacing:-0.145px;">All Email</div>
<div class="a" style="left:480.20px;top:518.00px;font-size:6.8px;color:#858585;letter-spacing:0.041px;">Any</div>
<div class="a" style="left:683.00px;top:518.00px;font-size:6.8px;color:#858585;letter-spacing:0.010px;">Multi-Path</div>
<div class="a" style="left:744.10px;top:518.00px;font-size:6.8px;color:#858585;letter-spacing:0.205px;">Auto</div>
<div class="a" style="left:780.00px;top:518.00px;font-size:6.8px;color:#858585;letter-spacing:-0.161px;">High</div>
<div class="a" style="left:864.00px;top:518.00px;font-size:6.8px;color:#858585;letter-spacing:-0.145px;">Bulk</div>
<div class="a" style="left:211.00px;top:533.00px;font-size:7.0px;color:#1a80b8;">9</div>
<div class="a" style="left:221.00px;top:533.00px;font-size:7.0px;color:#1a80b8;letter-spacing:0.019px;">Infrastructure</div>
<div class="a" style="left:320.00px;top:533.00px;font-size:6.8px;color:#858585;letter-spacing:-0.044px;">IPv4 and IPv6</div>
<div class="a" style="left:376.40px;top:534.00px;font-size:6.8px;color:#858585;letter-spacing:-0.059px;">Any</div>
<div class="a" style="left:538.00px;top:533.00px;font-size:6.6px;color:#5a5a5a;font-weight:bold;letter-spacing:-0.055px;">All Infrastructure</div>
<div class="a" style="left:480.20px;top:534.00px;font-size:6.8px;color:#858585;letter-spacing:0.041px;">Any</div>
<div class="a" style="left:683.00px;top:534.00px;font-size:6.8px;color:#858585;letter-spacing:0.010px;">Multi-Path</div>
<div class="a" style="left:744.10px;top:534.00px;font-size:6.8px;color:#858585;letter-spacing:0.205px;">Auto</div>
<div class="a" style="left:780.00px;top:534.00px;font-size:6.8px;color:#858585;letter-spacing:0.019px;">Normal</div>
<div class="a" style="left:864.00px;top:534.00px;font-size:6.8px;color:#858585;letter-spacing:0.036px;">Transactional</div>

</div>
</body>
</html>
